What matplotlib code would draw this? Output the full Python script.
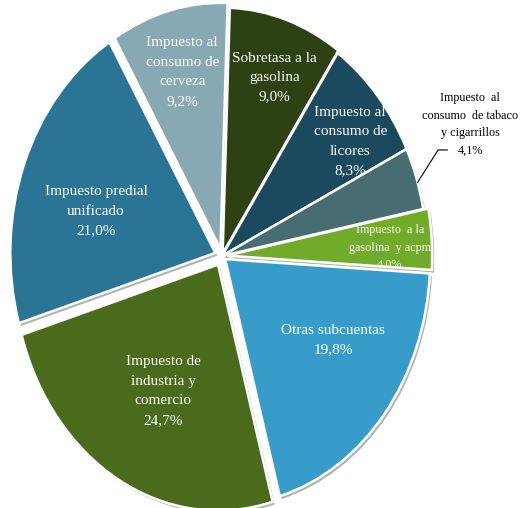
import numpy as np
import matplotlib.pyplot as plt
import matplotlib.patheffects as pe

# slices clockwise from 12 o'clock
labels = [
    "Sobretasa a la\ngasolina",
    "Impuesto al\nconsumo de\nlicores",
    "Impuesto  al\nconsumo  de tabaco\ny cigarrillos",
    "Impuesto  a la\ngasolina  y acpm",
    "Otras subcuentas",
    "Impuesto de\nindustria y\ncomercio",
    "Impuesto predial\nunificado",
    "Impuesto al\nconsumo de\ncerveza",
]
shares = [9.0, 8.3, 4.1, 4.0, 19.8, 24.7, 21.0, 9.2]
colors = ["#2d4113", "#1b495d", "#476c71", "#70ab29",
          "#389ccb", "#4a6b1b", "#2a7596", "#86a9b4"]
explode = [0.01, 0.0, 0.0, 0.025, 0.02, 0.04, 0.035, 0.03]

# label placement (radius from wedge centre, angle tweak in degrees, font size)
lab_r = [0.76, 0.78, None, 0.795, 0.62, 0.58, 0.606, 0.742]
lab_da = [-1.4, -4, 0, -1.5, 7, 1.4, 5, 0]
lab_fs = [11, 11, 8.7, 8.7, 11, 11, 11, 11]

plt.rcParams['font.family'] = ['Liberation Serif', 'DejaVu Serif']

W, H = 529, 508
cx, cy, rx, ry = 222, 256, 205, 246

fig = plt.figure(figsize=(W / 100, H / 100), dpi=100)
ax = fig.add_axes([0, 0, 1, 1])

# shadow layer
ax.pie(shares, explode=explode, startangle=88, counterclock=False,
       colors=["white"] * len(shares),
       wedgeprops=dict(linewidth=0,
                       path_effects=[pe.SimplePatchShadow(offset=(1.5, -2), shadow_rgbFace="0.45", alpha=0.55)]))
wedges, _ = ax.pie(shares, explode=explode, startangle=88, counterclock=False,
                   colors=colors, wedgeprops=dict(edgecolor="white", linewidth=1.8))

ax.set_aspect('auto')
ax.set_xlim(-cx / rx, (W - cx) / rx)
ax.set_ylim(-(H - cy) / ry, cy / ry)
ax.axis('off')

for i, w in enumerate(wedges):
    mid = np.deg2rad((w.theta1 + w.theta2) / 2)
    pct = "{:.1f}%".format(shares[i]).replace(".", ",")
    txt = labels[i] + "\n" + pct
    if lab_r[i] is None:
        # outside label with leader line
        a0 = mid - np.deg2rad(1)
        p0 = (w.center[0] + np.cos(a0), w.center[1] + np.sin(a0))
        elbow = (1.054, 0.431)
        ax.plot([p0[0], elbow[0], elbow[0] + 0.045], [p0[1], elbow[1], elbow[1]],
                color="black", lw=0.8)
        ax.text(1.21, 0.535, txt, ha="center", va="center", fontsize=lab_fs[i],
                color="black", linespacing=1.6)
        continue
    a = mid + np.deg2rad(lab_da[i])
    x = w.center[0] + lab_r[i] * np.cos(a)
    y = w.center[1] + lab_r[i] * np.sin(a)
    ax.text(x, y, txt, ha="center", va="center", fontsize=lab_fs[i],
            color="white", linespacing=1.65 if lab_fs[i] > 10 else 1.6)

fig.savefig("out.png", dpi=100)
